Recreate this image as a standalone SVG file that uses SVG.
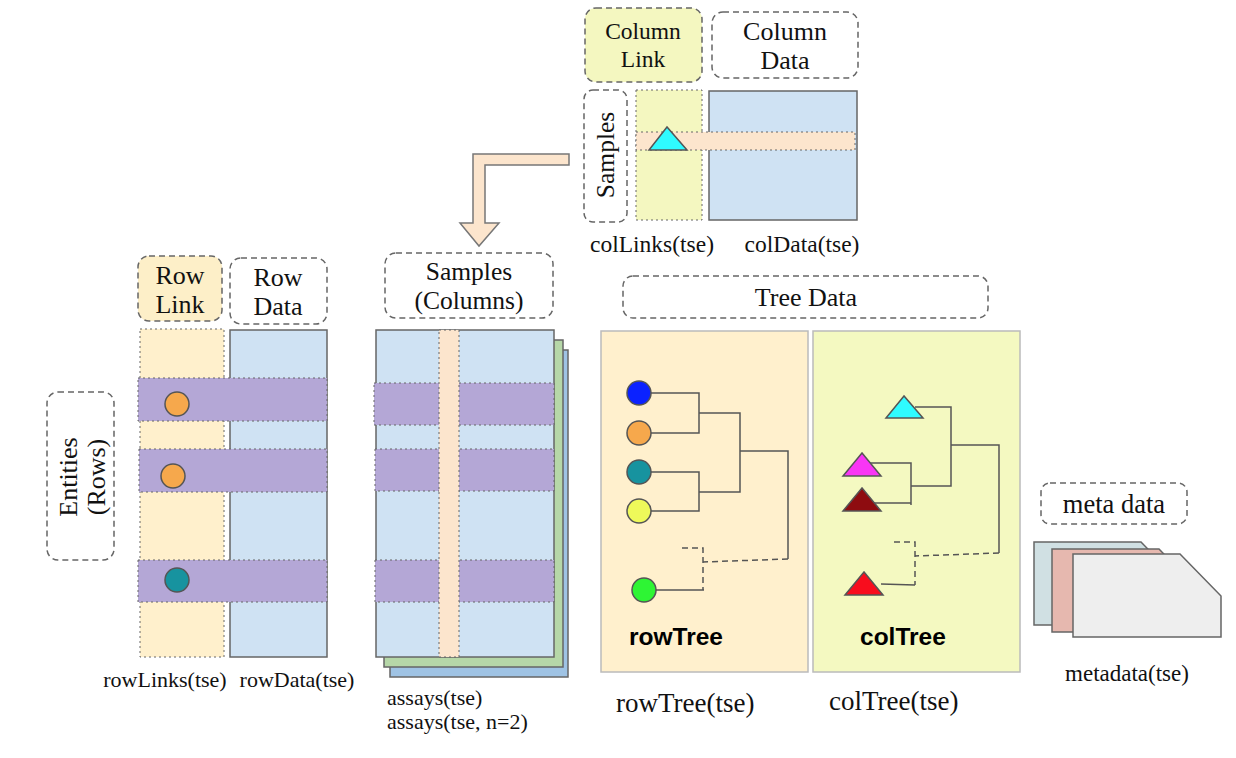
<svg xmlns="http://www.w3.org/2000/svg" width="1236" height="758" viewBox="0 0 1236 758">
<style>
.t{font-family:"Liberation Serif",serif;font-size:22px;fill:#111}
.L{font-size:26px}
.tm{text-anchor:middle}
.b{font-family:"Liberation Sans",Arial,sans-serif;font-weight:bold;font-size:24.5px;fill:#000}
.dbox{fill:none;stroke:#666;stroke-width:1.5;stroke-dasharray:6 4}
.dot{stroke:#666;stroke-width:1;stroke-dasharray:2 3}
.solid{stroke:#666;stroke-width:1.5}
.br{fill:none;stroke:#555;stroke-width:1.5}
.brd{fill:none;stroke:#555;stroke-width:1.5;stroke-dasharray:6 4}
.sh{stroke:#555;stroke-width:1.5}
</style>
<rect width="1236" height="758" fill="#fff"/>

<g id="column-link">
<rect x="585" y="8" width="117" height="74" rx="11" class="dbox" style="fill:#f4f7c0"/>
<text class="t tm" x="643" y="39" style="font-size:23.5px">Column</text>
<text class="t tm" x="643" y="67" style="font-size:23.5px">Link</text>
</g>
<g id="column-data">
<rect x="712" y="12" width="146" height="66" rx="11" class="dbox"/>
<text class="t tm L" x="785" y="40">Column</text>
<text class="t tm L" x="785" y="69">Data</text>
</g>
<g id="samples-label">
<rect x="584" y="90" width="43" height="132" rx="9" class="dbox"/>
<text class="t tm" transform="rotate(-90)" x="-155" y="614" style="font-size:25.5px">Samples</text>
</g>
<g id="col-links">
<rect x="636" y="90" width="66" height="130" fill="#f4f7c0" class="dot"/>
</g>
<g id="col-data">
<rect x="709" y="91" width="148" height="129" fill="#cfe2f3" class="solid"/>
<rect x="636" y="132" width="219" height="18" fill="#fce5cd" class="dot"/>
<polygon points="667,127 649,150 687,150" fill="#2ffbff" class="sh"/>
<text class="t tm" x="652" y="252" style="font-size:23.5px">colLinks(tse)</text>
<text class="t tm" x="802" y="252" style="font-size:23.5px">colData(tse)</text>
</g>

<g id="connectors">
<polygon points="569,154 473,154 473,223 460,223 479,246 499,223 485,223 485,165 569,165" fill="#fce5cd" stroke="#777" stroke-width="1.5"/>
</g>

<g id="row-link">
<rect x="138" y="256" width="84" height="65" rx="11" style="fill:#fdefc8" class="dbox"/>
<text class="t tm L" x="180" y="284">Row</text>
<text class="t tm L" x="180" y="313">Link</text>
</g>
<g id="row-data-label">
<rect x="230" y="258" width="97" height="66" rx="11" class="dbox"/>
<text class="t tm L" x="278" y="286">Row</text>
<text class="t tm L" x="278" y="315">Data</text>
</g>
<g id="entities">
<rect x="47" y="392" width="67" height="168" rx="11" class="dbox"/>
<text class="t tm L" transform="rotate(-90)" x="-477" y="77">Entities</text>
<text class="t tm L" transform="rotate(-90)" x="-477" y="105">(Rows)</text>
</g>
<g id="row-table">
<rect x="140" y="329" width="84" height="328" fill="#fff0cc" class="dot"/>
<rect x="230" y="330" width="97" height="327" fill="#cfe2f3" class="solid"/>
<rect x="138" y="378" width="189" height="43" fill="#b4a7d6" class="dot"/>
<rect x="139" y="449" width="188" height="43" fill="#b4a7d6" class="dot"/>
<rect x="138" y="560" width="189" height="42" fill="#b4a7d6" class="dot"/>
<circle cx="177" cy="404" r="12" fill="#f6a84c" class="sh"/>
<circle cx="173" cy="476" r="12" fill="#f6a84c" class="sh"/>
<circle cx="177" cy="580" r="12" fill="#17939f" class="sh"/>
<text class="t tm" x="165" y="687">rowLinks(tse)</text>
<text class="t tm" x="297" y="687">rowData(tse)</text>
</g>

<g id="samples-columns">
<rect x="385" y="253" width="168" height="65" rx="11" class="dbox"/>
<text class="t tm" x="469" y="280" style="font-size:25.5px">Samples</text>
<text class="t tm" x="469" y="309" style="font-size:25.5px">(Columns)</text>
</g>
<g id="assays">
<rect x="390" y="350" width="178" height="327" fill="#9fc3e4" class="solid"/>
<rect x="384" y="340" width="179" height="327" fill="#b6d7a8" class="solid"/>
<rect x="376" y="330" width="178" height="327" fill="#cfe2f3" class="solid"/>
<rect x="374" y="383" width="180" height="42" fill="#b4a7d6" class="dot"/>
<rect x="375" y="449" width="179" height="42" fill="#b4a7d6" class="dot"/>
<rect x="375" y="560" width="179" height="42" fill="#b4a7d6" class="dot"/>
<rect x="439" y="330" width="20" height="327" fill="#fce5cd" class="dot"/>
<text class="t" x="387" y="705">assays(tse)</text>
<text class="t" x="387" y="729">assays(tse, n=2)</text>
</g>

<g id="tree-data">
<rect x="623" y="276" width="365" height="42" rx="10" class="dbox"/>
<text class="t tm L" x="806" y="306">Tree Data</text>
</g>

<g id="row-tree">
<rect x="601" y="331" width="207" height="341" fill="#fff0cd" stroke="#bbb" stroke-width="1.5"/>
<path class="br" d="M651,393 H699 V433 H651 M699,413 H740 V492 H699 M651,472 H699 V511 H651 M740,451 H788 V559"/>
<path class="brd" d="M788,559 L703,562 M682,548 H703 V590"/>
<path class="br" d="M656,590 H704"/>
<circle cx="639" cy="393" r="12" fill="#0b22ff" class="sh"/>
<circle cx="639" cy="433" r="12" fill="#f6a84c" class="sh"/>
<circle cx="639" cy="472" r="12" fill="#17939f" class="sh"/>
<circle cx="639" cy="511" r="12" fill="#eef95a" class="sh"/>
<circle cx="644" cy="590" r="12" fill="#2ef534" class="sh"/>
<text class="b" x="629" y="645">rowTree</text>
<text class="t" x="616" y="712" style="font-size:27px">rowTree(tse)</text>
</g>

<g id="col-tree">
<rect x="813" y="331" width="207" height="341" fill="#f4f9c1" stroke="#bbb" stroke-width="1.5"/>
<path class="br" d="M915,407 H951 V486 H911 M951,445 H999 V553 M870,463 H911 V505 M870,503 H911"/>
<path class="brd" d="M999,553 L915,556 M894,542 H915 V585"/>
<path class="br" d="M881,584 L915,585"/>
<polygon points="904,396 886,418 923,418" fill="#2ffbff" class="sh"/>
<polygon points="862,453 843,476 881,476" fill="#f935f5" class="sh"/>
<polygon points="862,488 843,511 881,511" fill="#8e0c10" class="sh"/>
<polygon points="864,572 845,595 883,595" fill="#f80d1d" class="sh"/>
<text class="b" x="860" y="645">colTree</text>
<text class="t" x="829" y="710" style="font-size:27px">colTree(tse)</text>
</g>

<g id="metadata">
<rect x="1041" y="483" width="146" height="41" rx="9" class="dbox"/>
<text class="t tm" x="1114" y="513" style="font-size:26.5px">meta data</text>
<polygon points="1034,542 1141,542 1182,584 1182,625 1034,625" fill="#d0e0e3" class="solid"/>
<polygon points="1052,549 1159,549 1200,591 1200,632 1052,632" fill="#e6b8af" class="solid"/>
<polygon points="1073,554 1180,554 1221,596 1221,637 1073,637" fill="#eeeeee" class="solid"/>
<text class="t tm" x="1127" y="681" style="font-size:23px">metadata(tse)</text>
</g>
</svg>
